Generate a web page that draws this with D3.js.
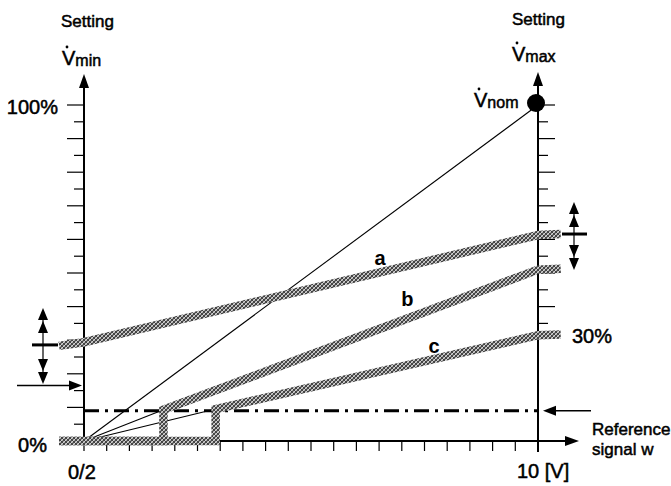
<!DOCTYPE html>
<html><head><meta charset="utf-8">
<script src="https://cdn.jsdelivr.net/npm/d3@7"></script>
<style>
html,body{margin:0;padding:0;background:#fff;}
svg{display:block;}
text{font-family:"Liberation Sans",Arial,Helvetica,sans-serif;fill:#000;}
</style></head>
<body><svg id="chart" width="671" height="486"></svg>
<script>
// ---- data (signal 0..10 V, flow in %) ----
const curveA = [[-0.55, 28.3], [0, 29.4], [10, 61.3], [10.5, 61.6]];
const curveB = [[-0.55, 0], [1.75, 0], [1.75, 9.3], [10, 51.0], [10.5, 51.3]];
const curveC = [[-0.55, 0], [2.9, 0], [2.9, 9.5], [10, 31.5], [10.5, 31.7]];
const thinNom = [[0, 0], [10, 100]];
const thinB = [[0, 0], [1.75, 9.3]];
const thinC = [[0, 0], [2.9, 9.5]];
const cutoffLevel = 9;      // dash-dot line
const minArrowLevel = 16.5; // left arrow
const leftTicks = [0,5,10,15,20,25,30,35,40,45,50,55,60,65,70,75,80,85,90,95,100];
const rightTicks = [35,40,45,50,55,60,65,70,75,80,85,90,95,100];
const xTicks = [0,0.5,1,1.5,2,2.5,3,3.5,4,4.5,5,5.5,6,6.5,7,7.5,8,8.5,9,9.5,10];
const curveLabels = [{t:"a", x:6.52, y:52.4}, {t:"b", x:7.12, y:40.2}, {t:"c", x:7.71, y:26.2}];

const svg = d3.select("#chart");
const x = d3.scaleLinear().domain([0, 10]).range([84, 538]);
const y = d3.scaleLinear().domain([0, 100]).range([441, 105]);
const line = d3.line().x(d => x(d[0])).y(d => y(d[1]));

// texture for the grey bands
const defs = svg.append("defs");
const pat = defs.append("pattern").attr("id","tex").attr("patternUnits","userSpaceOnUse")
  .attr("width",4).attr("height",4);
pat.append("rect").attr("width",4).attr("height",4).attr("fill","#a0a0a0");
[[0,0],[2,1],[1,2],[3,3],[3,0],[1,1],[0,3],[2,2]].forEach(p=>{
  pat.append("rect").attr("x",p[0]).attr("y",p[1]).attr("width",1).attr("height",1).attr("fill","#444");
});
[[1,0],[3,2],[0,1],[2,3]].forEach(p=>{
  pat.append("rect").attr("x",p[0]).attr("y",p[1]).attr("width",1).attr("height",1).attr("fill","#d4d4d4");
});

// ticks left axis
svg.append("g").selectAll("line").data(leftTicks).join("line")
  .attr("x1", x(0)).attr("x2", d => x(0) - (d % 10 === 0 ? 17 : 10))
  .attr("y1", d => y(d)).attr("y2", d => y(d)).attr("stroke","#000").attr("stroke-width",1.2);
// ticks right axis
svg.append("g").selectAll("line").data(rightTicks).join("line")
  .attr("x1", x(10)).attr("x2", d => x(10) + (d % 10 === 0 ? 17 : 10))
  .attr("y1", d => y(d)).attr("y2", d => y(d)).attr("stroke","#000").attr("stroke-width",1.2);
// ticks x axis
svg.append("g").selectAll("line").data(xTicks).join("line")
  .attr("x1", d => x(d)).attr("x2", d => x(d))
  .attr("y1", y(0)).attr("y2", y(0) + 10).attr("stroke","#000").attr("stroke-width",1.2);

// axes
function arrowHead(tx, ty, dir, len, half) {
  let pts;
  if (dir === "up") pts = [[tx,ty],[tx-half,ty+len],[tx+half,ty+len]];
  if (dir === "down") pts = [[tx,ty],[tx-half,ty-len],[tx+half,ty-len]];
  if (dir === "right") pts = [[tx,ty],[tx-len,ty-half],[tx-len,ty+half]];
  if (dir === "left") pts = [[tx,ty],[tx+len,ty-half],[tx+len,ty+half]];
  svg.append("path").attr("d", "M" + pts.map(p=>p.join(",")).join("L") + "Z").attr("fill","#000");
}
svg.append("line").attr("x1", x(0)).attr("x2", x(0)).attr("y1", y(0)+2).attr("y2", 80)
  .attr("stroke","#000").attr("stroke-width",2);
arrowHead(x(0), 74, "up", 14, 5);
svg.append("line").attr("x1", x(10)).attr("x2", x(10)).attr("y1", 452).attr("y2", 78)
  .attr("stroke","#000").attr("stroke-width",2);
arrowHead(x(10), 72, "up", 14, 5);
svg.append("line").attr("x1", x(0)).attr("x2", 570).attr("y1", y(0)).attr("y2", y(0))
  .attr("stroke","#000").attr("stroke-width",2);
arrowHead(579, y(0), "right", 14, 5);

// dash-dot cut-off line
svg.append("line").attr("x1", x(0)).attr("x2", x(10)).attr("y1", y(cutoffLevel)).attr("y2", y(cutoffLevel))
  .attr("stroke","#000").attr("stroke-width",3).attr("stroke-dasharray","15,6,3,6");

// thin lines
[thinNom, thinB, thinC].forEach(d => {
  svg.append("path").attr("d", line(d)).attr("fill","none").attr("stroke","#000").attr("stroke-width",1.1);
});

// grey bands
[curveC, curveB, curveA].forEach(d => {
  svg.append("path").attr("d", line(d)).attr("fill","none").attr("stroke","url(#tex)")
    .attr("stroke-width",8.5).attr("stroke-linejoin","miter");
});

// V nom dot
svg.append("circle").attr("cx", x(10) - 2).attr("cy", y(100) - 2).attr("r", 9).attr("fill","#000");

// arrows at levels
svg.append("line").attr("x1", 17).attr("x2", 70).attr("y1", y(minArrowLevel)).attr("y2", y(minArrowLevel))
  .attr("stroke","#000").attr("stroke-width",1.5);
arrowHead(82, y(minArrowLevel), "right", 13, 5);
svg.append("line").attr("x1", 555).attr("x2", 591).attr("y1", y(cutoffLevel)).attr("y2", y(cutoffLevel))
  .attr("stroke","#000").attr("stroke-width",1.5);
arrowHead(543, y(cutoffLevel), "left", 13, 5);

// adjustment double arrows
function adjust(cx, yMid, top, bottom, barX1, barX2) {
  svg.append("line").attr("x1", cx).attr("x2", cx).attr("y1", top + 10).attr("y2", bottom - 10)
    .attr("stroke","#000").attr("stroke-width",1.2);
  svg.append("line").attr("x1", barX1).attr("x2", barX2).attr("y1", yMid).attr("y2", yMid)
    .attr("stroke","#000").attr("stroke-width",3);
  arrowHead(cx, top, "up", 12, 5);
  arrowHead(cx, top + 13, "up", 12, 5);
  arrowHead(cx, bottom, "down", 12, 5);
  arrowHead(cx, bottom - 13, "down", 12, 5);
}
adjust(43, y(curveA[0][1]) - 1, 308, 384, 32, 58);
adjust(574, y(curveA[3][1]), 202, 270, 562, 587);

// texts
const thick = sel => sel.attr("stroke","#000").attr("stroke-width",0.5);
function addText(t, tx, ty, size, weight, anchor) {
  return svg.append("text").attr("x", tx).attr("y", ty).attr("font-size", size)
    .attr("font-weight", weight || "normal").attr("text-anchor", anchor || "start").text(t);
}
thick(addText("Setting", 61, 27, 17));
thick(addText("Setting", 512, 25, 17));
function vdot(tx, ty, sub, vsize, ssize) {
  const t = svg.append("text").attr("x", tx).attr("y", ty).attr("font-size", vsize);
  t.append("tspan").text("V");
  t.append("tspan").attr("font-size", ssize).attr("dy", 1).text(sub);
  thick(t);
  svg.append("circle").attr("cx", tx + 5).attr("cy", ty - 18).attr("r", 1.4).attr("fill","#000");
}
vdot(62, 65, "min", 20, 16);
vdot(512, 61, "max", 20, 16);
vdot(474, 107, "nom", 20, 16);
thick(addText("100%", 58, 114, 20, "normal", "end"));
thick(addText("0%", 47, 452, 20, "normal", "end"));
thick(addText("0/2", 68, 479, 20));
thick(addText("10 [V]", 517, 478, 20));
thick(addText("30%", 572, 343, 20));
thick(addText("Reference", 592, 435, 17));
thick(addText("signal w", 592, 455, 17));
svg.append("g").selectAll("text").data(curveLabels).join("text")
  .attr("x", d => x(d.x)).attr("y", d => y(d.y)).attr("font-size", 20).attr("font-weight","bold")
  .attr("text-anchor","middle").text(d => d.t);
</script></body></html>
